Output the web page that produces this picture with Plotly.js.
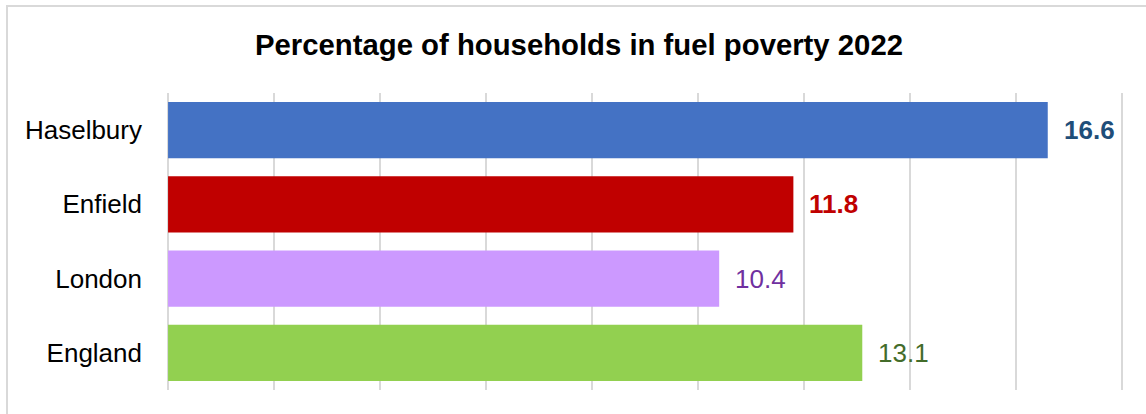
<!DOCTYPE html>
<html>
<head>
<meta charset="utf-8">
<script src="https://cdn.plot.ly/plotly-3.0.1.min.js"></script>
<style>
  html, body { margin: 0; padding: 0; background: #fff; }
  #chart { width: 1146px; height: 414px; }
</style>
</head>
<body>
<div id="chart"></div>
<script>
const categories = ["Haselbury", "Enfield", "London", "England"];
const values = [16.6, 11.8, 10.4, 13.1];
const barColors = ["#4472C4", "#C00000", "#CC99FF", "#92D050"];
const labelColors = ["#1F4E79", "#C00000", "#7030A0", "#436C2A"];
const labelBold = [true, true, false, false];
const xTicks = [0, 2, 4, 6, 8, 10, 12, 14, 16, 18];
const chartTitle = "Percentage of households in fuel poverty 2022";

const W = 1146, H = 414;
const margin = { l: 167, r: 23, t: 93, b: 24 };
const pw = W - margin.l - margin.r;
const ph = H - margin.t - margin.b;

const trace = {
  type: "bar",
  orientation: "h",
  y: categories,
  x: values,
  marker: { color: barColors, line: { width: 0 } },
  hoverinfo: "skip"
};

const annotations = categories.map((c, i) => ({
  x: values[i],
  y: c,
  xref: "x",
  yref: "y",
  xanchor: "left",
  yanchor: "middle",
  xshift: 14,
  showarrow: false,
  text: labelBold[i] ? "<b>" + values[i].toFixed(1) + "</b>" : values[i].toFixed(1),
  font: { family: "Liberation Sans, Arial, sans-serif", size: 26, color: labelColors[i] }
}));

const layout = {
  width: W,
  height: H,
  margin: margin,
  paper_bgcolor: "#ffffff",
  plot_bgcolor: "#ffffff",
  showlegend: false,
  bargap: 0.24,
  title: {
    text: "<b>" + chartTitle + "</b>",
    font: { family: "Liberation Sans, Arial, sans-serif", size: 29.3, color: "#000000" },
    x: 579 / W,
    xref: "container",
    xanchor: "center",
    y: 1 - 45 / H,
    yref: "container",
    yanchor: "middle"
  },
  xaxis: {
    range: [-0.02, 18.02],
    tickvals: xTicks,
    showticklabels: false,
    showgrid: true,
    gridcolor: "#D9D9D9",
    gridwidth: 1.5,
    zeroline: false,
    showline: false,
    fixedrange: true
  },
  yaxis: {
    type: "category",
    autorange: "reversed",
    showgrid: false,
    zeroline: false,
    showline: false,
    ticks: "",
    ticklabelstandoff: 24,
    tickfont: { family: "Liberation Sans, Arial, sans-serif", size: 26, color: "#000000" },
    fixedrange: true
  },
  annotations: annotations,
  shapes: [{
    type: "rect",
    xref: "paper",
    yref: "paper",
    x0: (7 - margin.l) / pw,
    x1: 1.3,
    y0: -0.3,
    y1: (H - margin.b - 6) / ph,
    line: { color: "#D9D9D9", width: 2 },
    fillcolor: "rgba(0,0,0,0)",
    layer: "below"
  }]
};

Plotly.newPlot("chart", [trace], layout, { displayModeBar: false, staticPlot: true });
</script>
</body>
</html>
